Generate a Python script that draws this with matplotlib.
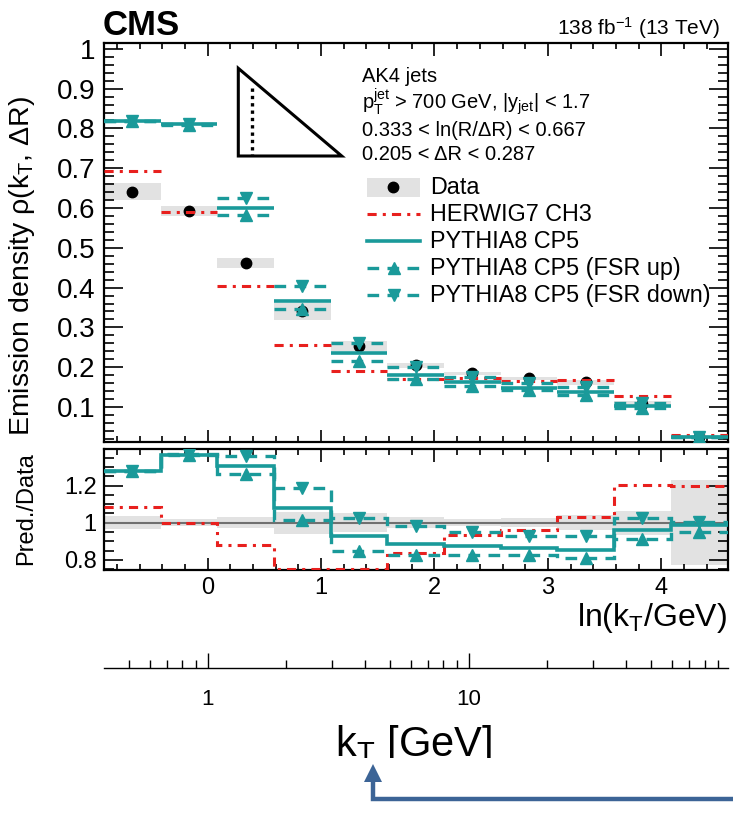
import numpy as np
import matplotlib
matplotlib.use("Agg")
import matplotlib.pyplot as plt
from matplotlib.lines import Line2D
from matplotlib.patches import Polygon, Rectangle
from matplotlib.ticker import MultipleLocator, FuncFormatter, FixedLocator, NullLocator
from matplotlib.transforms import Bbox

plt.rcParams['font.family'] = ['Liberation Sans', 'DejaVu Sans']
plt.rcParams['mathtext.fontset'] = 'custom'
plt.rcParams['mathtext.rm'] = 'Liberation Sans'
plt.rcParams['mathtext.it'] = 'Liberation Sans:italic'
plt.rcParams['mathtext.bf'] = 'Liberation Sans:bold'

# bin edges in ln(kT/GeV)
bin_edges = [-0.916, -0.416, 0.084, 0.584, 1.084, 1.584, 2.084, 2.584, 3.084, 3.584, 4.084, 4.584]

# measured emission density and relative uncertainty
data = [0.641, 0.593, 0.461, 0.340, 0.254, 0.205, 0.185, 0.172, 0.162, 0.107, 0.025]
data_rel_err = [0.034, 0.02, 0.028, 0.06, 0.05, 0.03, 0.02, 0.025, 0.04, 0.065, 0.23]

# prediction / data ratios
ratio_herwig = [1.083, 0.997, 0.879, 0.752, 0.752, 0.834, 0.934, 0.96, 1.032, 1.204, 1.20]
ratio_pythia = [1.276, 1.366, 1.303, 1.081, 0.93, 0.883, 0.876, 0.861, 0.852, 0.96, 0.988]
ratio_fsr_up = [1.276, 1.362, 1.262, 1.015, 0.847, 0.825, 0.825, 0.825, 0.807, 0.912, 0.948]
ratio_fsr_down = [1.276, 1.37, 1.357, 1.186, 1.027, 0.982, 0.948, 0.93, 0.93, 1.027, 1.005]

# kT axis ticks
kt_major = [1, 10]
kt_minor = [0.4, 0.5, 0.6, 0.7, 0.8, 0.9, 2, 3, 4, 5, 6, 7, 8, 9, 20, 30, 40, 50, 60, 70, 80, 90]

edges = np.array(bin_edges)
centers = 0.5 * (edges[:-1] + edges[1:])
width = edges[1] - edges[0]
data = np.array(data)
rel = np.array(data_rel_err)
herwig = np.array(ratio_herwig) * data
pythia = np.array(ratio_pythia) * data
fsr_up = np.array(ratio_fsr_up) * data
fsr_down = np.array(ratio_fsr_down) * data

RED = '#e8201e'
TEAL = '#1a9a9a'
GRAY = '#e2e2e2'
BLUE = '#3c6496'
DASHDOT = (0, (3, 2, 1, 2))
DASHED = (0, (3.5, 2.5))

W, H = 733, 815
fig = plt.figure(figsize=(W / 100, H / 100), dpi=100)


def P(x, y):
    return x / W, 1 - y / H


L, R = 103.8, 727.5
ax = fig.add_axes([L / W, 1 - 442 / H, (R - L) / W, (442 - 43.3) / H])
rax = fig.add_axes([L / W, 1 - 570 / H, (R - L) / W, (570 - 449.3) / H])

# main panel
ax.bar(centers, 2 * rel * data, bottom=data * (1 - rel), width=width, color=GRAY, lw=0, zorder=1)
ax.plot(centers, data, 'o', color='black', ms=7.5, zorder=2)
ax.hlines(herwig, edges[:-1], edges[1:], colors=RED, linestyles=[DASHDOT], lw=2.2, zorder=3)
ax.hlines(pythia, edges[:-1], edges[1:], colors=TEAL, lw=2.6, zorder=4)
ax.hlines(fsr_up, edges[:-1], edges[1:], colors=TEAL, linestyles=[DASHED], lw=2.4, zorder=4)
ax.hlines(fsr_down, edges[:-1], edges[1:], colors=TEAL, linestyles=[DASHED], lw=2.4, zorder=4)
ax.plot(centers, fsr_up, '^', color=TEAL, ms=8, zorder=5)
ax.plot(centers, fsr_down, 'v', color=TEAL, ms=8, zorder=5)

# ratio panel
rax.bar(centers, 2 * rel, bottom=1 - rel, width=width, color=GRAY, lw=0, zorder=1)
rax.axhline(1, color='#707070', lw=1.5, zorder=2)
rax.stairs(ratio_herwig, edges, baseline=None, color=RED, linestyle=DASHDOT, lw=2.2, zorder=3)
rax.stairs(ratio_fsr_up, edges, baseline=None, color=TEAL, linestyle=DASHED, lw=2.4, zorder=4)
rax.stairs(ratio_fsr_down, edges, baseline=None, color=TEAL, linestyle=DASHED, lw=2.4, zorder=4)
rax.stairs(ratio_pythia, edges, baseline=None, color=TEAL, lw=2.6, zorder=5)
rax.plot(centers, ratio_fsr_up, '^', color=TEAL, ms=8, zorder=6)
rax.plot(centers, ratio_fsr_down, 'v', color=TEAL, ms=8, zorder=6)

fmt = FuncFormatter(lambda v, p: f"{v:g}")
for a in (ax, rax):
    a.set_xlim(edges[0], edges[-1])
    a.xaxis.set_major_locator(MultipleLocator(1))
    a.xaxis.set_minor_locator(MultipleLocator(0.2))
    a.tick_params(which='both', direction='in', top=True, right=True, width=1.2, colors='black')
    a.tick_params(axis='y', which='major', length=14)
    a.tick_params(axis='y', which='minor', length=7)
    a.tick_params(axis='x', which='major', length=9)
    a.tick_params(axis='x', which='minor', length=4.5)
    a.yaxis.set_major_formatter(fmt)
    for s in a.spines.values():
        s.set_linewidth(1.6)

ax.set_ylim(0.012, 1.014)
ax.yaxis.set_major_locator(MultipleLocator(0.1))
ax.yaxis.set_minor_locator(MultipleLocator(0.02))
ax.tick_params(axis='x', labelbottom=False)
ax.tick_params(axis='y', labelsize=20, pad=6)

rax.set_ylim(0.745, 1.395)
rax.yaxis.set_major_locator(MultipleLocator(0.2))
rax.yaxis.set_minor_locator(MultipleLocator(0.05))
rax.tick_params(axis='y', labelsize=17, pad=5)
rax.tick_params(axis='x', labelsize=17, pad=5)
rax.xaxis.set_major_formatter(fmt)

# kT axis below
kax = fig.add_axes([L / W, 1 - 668 / H, (R - L) / W, 0.0005])
kax.set_xlim(edges[0], edges[-1])
kax.patch.set_visible(False)
for side in ('left', 'right', 'top'):
    kax.spines[side].set_visible(False)
kax.spines['bottom'].set_linewidth(1.0)
kax.yaxis.set_major_locator(NullLocator())
kax.xaxis.set_major_locator(FixedLocator(np.log(kt_major)))
kax.xaxis.set_minor_locator(FixedLocator(np.log(kt_minor)))
kax.set_xticklabels([str(k) for k in kt_major])
kax.tick_params(axis='x', which='major', direction='in', length=11, width=1.0, labelsize=16, pad=15)
kax.tick_params(axis='x', which='minor', direction='in', length=6, width=1.0)

# texts
fig.text(*P(103, 35), 'CMS', fontsize=25, fontweight='bold', ha='left', va='baseline')
fig.text(*P(720, 35), r'138 fb$^{\mathrm{-1}}$ (13 TeV)', fontsize=15, ha='right', va='baseline')
fig.text(*P(22, 96), r'Emission density ρ($\mathrm{k_T}$, ΔR)', fontsize=20.5, rotation=90,
         ha='center', va='top')
fig.text(*P(26, 452), 'Pred./Data', fontsize=17, rotation=90, ha='center', va='top')
fig.text(*P(727, 626), r'ln($\mathrm{k_T}$/GeV)', fontsize=23, ha='right', va='baseline')
kt_label = fig.text(*P(414, 756), r'$\mathrm{k_T}$ [GeV]', fontsize=30, ha='center', va='baseline')
kt_label.set_clip_box(Bbox([[0, H - 758], [W, H]]))
kt_label.set_clip_on(True)

fs_info = 14.5
fig.text(*P(362, 82), 'AK4 jets', fontsize=fs_info, va='baseline')
fig.text(*P(362, 109), r'$\mathrm{p_T^{jet}}$ > 700 GeV, |$\mathrm{y_{jet}}$| < 1.7', fontsize=fs_info, va='baseline')
fig.text(*P(362, 136.5), '0.333 < ln(R/ΔR) < 0.667', fontsize=fs_info, va='baseline')
fig.text(*P(362, 159.5), '0.205 < ΔR < 0.287', fontsize=fs_info, va='baseline')

# triangle sketch
tri = Polygon([P(238.3, 68.3), P(238.3, 156), P(341.7, 156)], closed=True, fill=False,
              edgecolor='black', lw=2.2, transform=fig.transFigure, joinstyle='miter')
fig.add_artist(tri)
fig.add_artist(Line2D(*zip(P(252.3, 88.3), P(252.3, 156)), transform=fig.transFigure,
                      color='black', lw=2.4, linestyle=(0, (1, 1.2))))

# legend
rows = [187, 214, 241, 268, 295]
labels = ['Data', 'HERWIG7 CH3', 'PYTHIA8 CP5', 'PYTHIA8 CP5 (FSR up)', 'PYTHIA8 CP5 (FSR down)']
hx0, hx1, tx = 367, 420, 430
fig.add_artist(Rectangle(P(hx0, rows[0] + 9.5), (hx1 - hx0) / W, 19 / H, transform=fig.transFigure,
                         facecolor=GRAY, edgecolor='none'))
fig.add_artist(Line2D([P(393, rows[0])[0]], [P(393, rows[0])[1]], transform=fig.transFigure,
                      marker='o', color='black', ms=7.5, linestyle='none'))
styles = [(RED, DASHDOT, 2.2, None), (TEAL, '-', 2.6, None), (TEAL, DASHED, 2.4, '^'), (TEAL, DASHED, 2.4, 'v')]
for y, (c, ls, lw, m) in zip(rows[1:], styles):
    (x0, yy), (x1, _) = P(hx0, y), P(hx1, y)
    fig.add_artist(Line2D([x0, x1], [yy, yy], transform=fig.transFigure, color=c, linestyle=ls, lw=lw))
    if m:
        fig.add_artist(Line2D([(x0 + x1) / 2], [yy], transform=fig.transFigure, color=c,
                              marker=m, ms=8, linestyle='none'))
for y, lab in zip(rows, labels):
    fig.text(*P(tx, y + 7), lab, fontsize=16.8, va='baseline')

# arrow
fig.add_artist(Line2D(*zip(P(733, 799), P(373, 799), P(373, 781)), transform=fig.transFigure,
                      color=BLUE, lw=3.2, solid_joinstyle='miter'))
fig.add_artist(Polygon([P(364, 782), P(382, 782), P(373, 764)], closed=True, transform=fig.transFigure,
                       facecolor=BLUE, edgecolor='none'))

fig.savefig('out.png', dpi=100)
